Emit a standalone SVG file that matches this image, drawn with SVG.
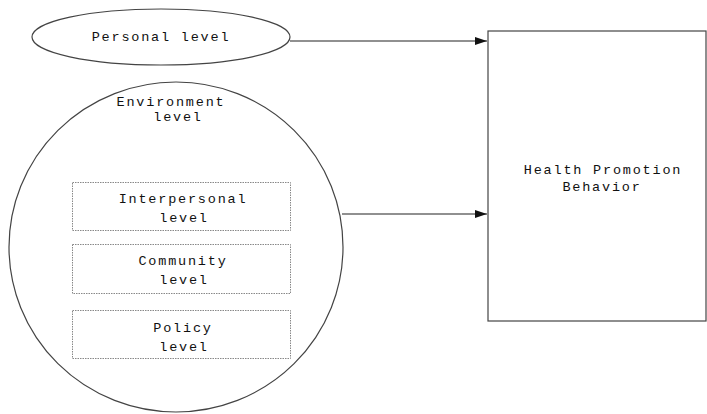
<svg xmlns="http://www.w3.org/2000/svg" width="707" height="414" viewBox="0 0 707 414">
<style>
.sh{fill:#fff;stroke:#444;stroke-width:1.2}
.box{fill:#fff;stroke:#888;stroke-width:1;stroke-dasharray:1.5 1}
.t{font-family:"Liberation Mono","DejaVu Sans Mono",monospace;font-size:13.5px;letter-spacing:1.8px;fill:#111;text-anchor:middle}
.c{stroke:#222;stroke-width:1.2;fill:none;marker-end:url(#ah)}
</style>
<defs>
<marker id="ah" markerWidth="12" markerHeight="8" refX="12" refY="4" orient="auto" markerUnits="userSpaceOnUse">
<path d="M0,0 L12,4 L0,8 Z" fill="#111"/>
</marker>
</defs>
<rect width="707" height="414" fill="#fff"/>
<g id="connectors">
<line class="c" x1="290" y1="41" x2="487" y2="41"/>
<line class="c" x1="342" y1="214" x2="487" y2="214"/>
</g>
<g id="personal">
<ellipse class="sh" cx="161" cy="37" rx="129" ry="28"/>
<text class="t" x="161" y="41">Personal level</text>
</g>
<g id="environment">
<ellipse class="sh" cx="176" cy="247" rx="167" ry="165"/>
<text class="t" x="171" y="106">Environment</text>
<text class="t" x="178" y="121">level</text>
</g>
<g id="interpersonal">
<rect class="box" x="72.5" y="182.5" width="218" height="48"/>
<text class="t" x="183" y="203">Interpersonal</text>
<text class="t" x="184" y="222">level</text>
</g>
<g id="community">
<rect class="box" x="72.5" y="244.5" width="218" height="49"/>
<text class="t" x="183" y="265">Community</text>
<text class="t" x="184" y="284">level</text>
</g>
<g id="policy">
<rect class="box" x="72.5" y="310.5" width="218" height="48"/>
<text class="t" x="183" y="332">Policy</text>
<text class="t" x="184" y="351">level</text>
</g>
<g id="health">
<rect class="sh" x="488" y="31" width="218" height="290"/>
<text class="t" x="603" y="174">Health Promotion</text>
<text class="t" x="602" y="191">Behavior</text>
</g>
</svg>
